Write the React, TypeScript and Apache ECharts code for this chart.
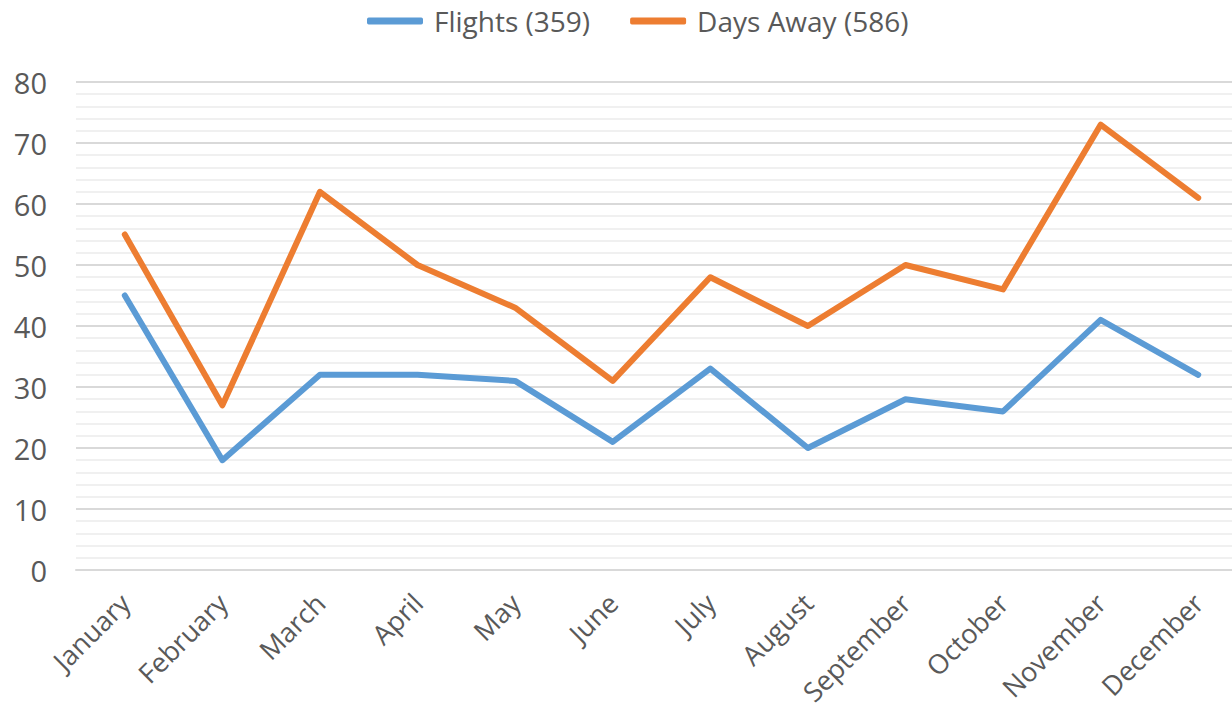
import React, { useEffect, useRef } from "react";
import * as echarts from "echarts";

const months = ["January", "February", "March", "April", "May", "June", "July", "August", "September", "October", "November", "December"];
const flights = [45, 18, 32, 32, 31, 21, 33, 20, 28, 26, 41, 32];
const daysAway = [55, 27, 62, 50, 43, 31, 48, 40, 50, 46, 73, 61];
const flightsName = "Flights (359)";
const daysName = "Days Away (586)";
const yTicks = { min: 0, max: 80, interval: 10 };

const FONT = "'Open Sans', 'Noto Sans', sans-serif";

export default function App() {
  const ref = useRef<HTMLDivElement>(null);
  useEffect(() => {
    const chart = echarts.init(ref.current!, null, { renderer: "svg" });
    chart.setOption({
      animation: false,
      backgroundColor: "#ffffff",
      legend: {
        top: 2,
        left: 362,
        itemWidth: 56,
        itemHeight: 7,
        itemGap: 40,
        icon: "roundRect",
        textStyle: { fontFamily: FONT, fontSize: 28, color: "#595959", padding: [0, 0, 0, 6] },
        data: [flightsName, daysName],
      },
      grid: {
        left: 76,
        top: 82,
        right: -15,
        bottom: 143,
        containLabel: false,
        outerBoundsMode: "none",
      },
      xAxis: {
        type: "category",
        data: months,
        boundaryGap: true,
        axisLine: { show: true, lineStyle: { color: "#d9d9d9", width: 2 } },
        axisTick: { show: false },
        axisLabel: {
          rotate: 45,
          interval: 0,
          margin: 28,
          fontFamily: FONT,
          fontSize: 27,
          color: "#595959",
        },
      },
      yAxis: {
        type: "value",
        min: yTicks.min,
        max: yTicks.max,
        interval: yTicks.interval,
        axisLine: { show: false },
        axisTick: { show: false },
        axisLabel: { margin: 29, fontFamily: FONT, fontSize: 29, color: "#595959" },
        splitLine: { show: true, lineStyle: { color: "#d9d9d9", width: 2 } },
        minorTick: { show: false, splitNumber: 5 },
        minorSplitLine: { show: true, lineStyle: { color: "#f0f0f0", width: 2 } },
      },
      series: [
        {
          name: flightsName,
          type: "line",
          data: flights,
          symbol: "none",
          lineStyle: { color: "#5b9bd5", width: 6, cap: "round", join: "round" },
          itemStyle: { color: "#5b9bd5" },
        },
        {
          name: daysName,
          type: "line",
          data: daysAway,
          symbol: "none",
          lineStyle: { color: "#ed7d31", width: 6, cap: "round", join: "round" },
          itemStyle: { color: "#ed7d31" },
        },
      ],
    });
    return () => chart.dispose();
  }, []);
  return <div ref={ref} style={{ width: 1232, height: 713, position: "fixed", left: 0, top: 0 }} />;
}
